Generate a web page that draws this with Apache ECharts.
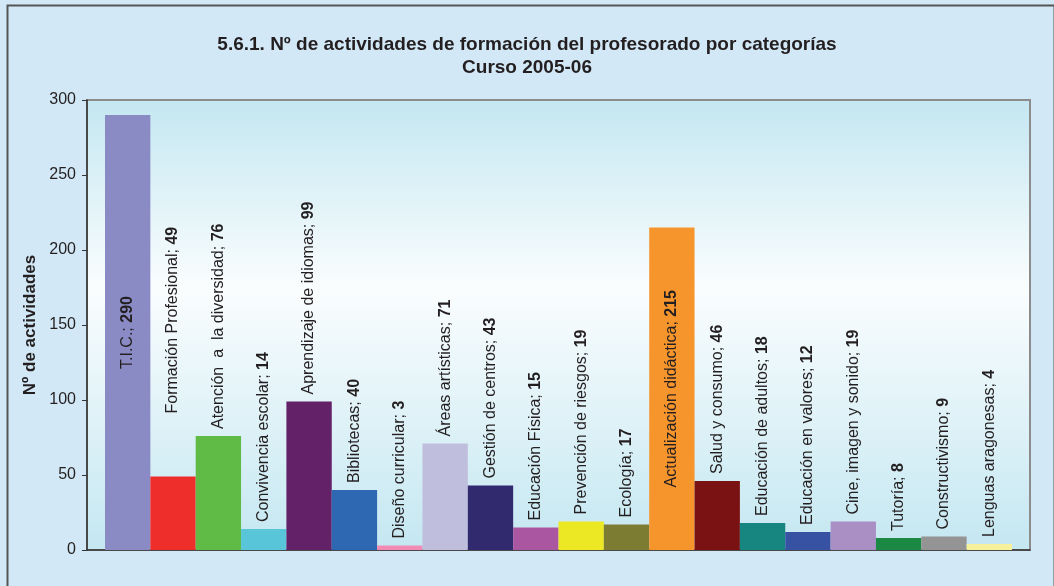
<!DOCTYPE html>
<html>
<head>
<meta charset="utf-8">
<script src="https://cdn.jsdelivr.net/npm/echarts@6/dist/echarts.min.js"></script>
<style>
  html, body { margin: 0; padding: 0; }
  #chart { width: 1054px; height: 586px; }
</style>
</head>
<body>
<div id="chart"></div>
<script>
var categories = ['T.I.C.', 'Formación Profesional', 'Atención  a  la diversidad', 'Convivencia escolar', 'Aprendizaje de idiomas',
  'Bibliotecas', 'Diseño curricular', 'Áreas artísticas', 'Gestión de centros', 'Educación Física',
  'Prevención de riesgos', 'Ecología', 'Actualización didáctica', 'Salud y consumo', 'Educación de adultos',
  'Educación en valores', 'Cine, imagen y sonido', 'Tutoría', 'Constructivismo', 'Lenguas aragonesas']
var values = [290, 49, 76, 14, 99, 40, 3, 71, 43, 15, 19, 17, 215, 46, 18, 12, 19, 8, 9, 4]
var barColors = ['#8a8bc4', '#ee2e2b', '#5fba46', '#58c6d8', '#632168', '#2e68b2', '#f28cb4', '#bfbedd', '#312a6e', '#ab56a0',
  '#ede824', '#7c7d33', '#f7952d', '#7a1214', '#178580', '#3752a3', '#a98fc3', '#1b8843', '#949494', '#f6f19a']
var yTicks = [0, 50, 100, 150, 200, 250, 300]

var chart = echarts.init(document.getElementById('chart'))
var font = 'Arial, "Liberation Sans", Helvetica, sans-serif'

var barData = values.map(function (v, i) {
  var item = { value: v, itemStyle: { color: barColors[i] } }
  if (v > 200) {
    // etiquetas dentro de las barras altas
    item.label = { position: 'inside', align: 'center', verticalAlign: 'middle' }
  }
  if (i === 1) {
    item.label = { distance: 63 }
  }
  return item
})

var titleStyle = {
  fontFamily: font,
  fontSize: 19,
  fontWeight: 'bold',
  color: '#231f20'
}

chart.setOption({
  backgroundColor: '#d3e8f6',
  animation: false,
  title: [{
    text: '5.6.1. Nº de actividades de formación del profesorado por categorías',
    left: 'center',
    top: 30,
    textStyle: titleStyle
  }, {
    text: 'Curso 2005-06',
    left: 'center',
    top: 53,
    textStyle: titleStyle
  }],
  graphic: [{
    type: 'rect',
    left: 5,
    top: 3,
    shape: { width: 1047, height: 600 },
    style: { fill: 'none', stroke: '#555', lineWidth: 2 },
    silent: true
  }],
  grid: [{
    left: 87,
    right: 24,
    top: 100,
    bottom: 36,
    show: true,
    borderColor: '#8c8c8c',
    borderWidth: 2,
    backgroundColor: new echarts.graphic.LinearGradient(0, 0, 0, 1, [
      { offset: 0, color: '#c4e7f1' },
      { offset: 0.42, color: '#fafdfe' },
      { offset: 1, color: '#c4e7f1' }
    ])
  }, {
    left: 105,
    right: 42,
    top: 100,
    bottom: 36
  }],
  xAxis: [{
    gridIndex: 0,
    type: 'value',
    min: 0,
    max: 1,
    axisLine: { show: true, onZero: false, lineStyle: { color: '#333', width: 1.5 } },
    axisTick: { show: false },
    axisLabel: { show: false },
    splitLine: { show: false }
  }, {
    gridIndex: 1,
    type: 'category',
    data: categories,
    show: false
  }],
  yAxis: [{
    gridIndex: 0,
    type: 'value',
    min: yTicks[0],
    max: yTicks[yTicks.length - 1],
    interval: 50,
    name: 'Nº de actividades',
    nameLocation: 'middle',
    nameGap: 45,
    nameTextStyle: { fontFamily: font, fontSize: 17, fontWeight: 'bold', color: '#231f20' },
    axisLine: { show: true, lineStyle: { color: '#333', width: 1.5 } },
    axisTick: { show: true, length: 5, lineStyle: { color: '#333' } },
    axisLabel: { fontFamily: font, fontSize: 16, color: '#231f20', margin: 11 },
    splitLine: { show: false }
  }, {
    gridIndex: 1,
    type: 'value',
    min: 0,
    max: 300,
    show: false,
    splitLine: { show: false }
  }],
  series: [{
    type: 'bar',
    xAxisIndex: 1,
    yAxisIndex: 1,
    data: barData,
    barCategoryGap: '0%',
    label: {
      show: true,
      position: 'top',
      rotate: 90,
      align: 'left',
      verticalAlign: 'middle',
      distance: 7,
      formatter: function (p) {
        return '{n|' + p.name + '; }{v|' + p.value + '}'
      },
      rich: {
        n: { fontFamily: font, fontSize: 16, color: '#231f20' },
        v: { fontFamily: font, fontSize: 16, fontWeight: 'bold', color: '#231f20' }
      }
    }
  }]
})
</script>
</body>
</html>
